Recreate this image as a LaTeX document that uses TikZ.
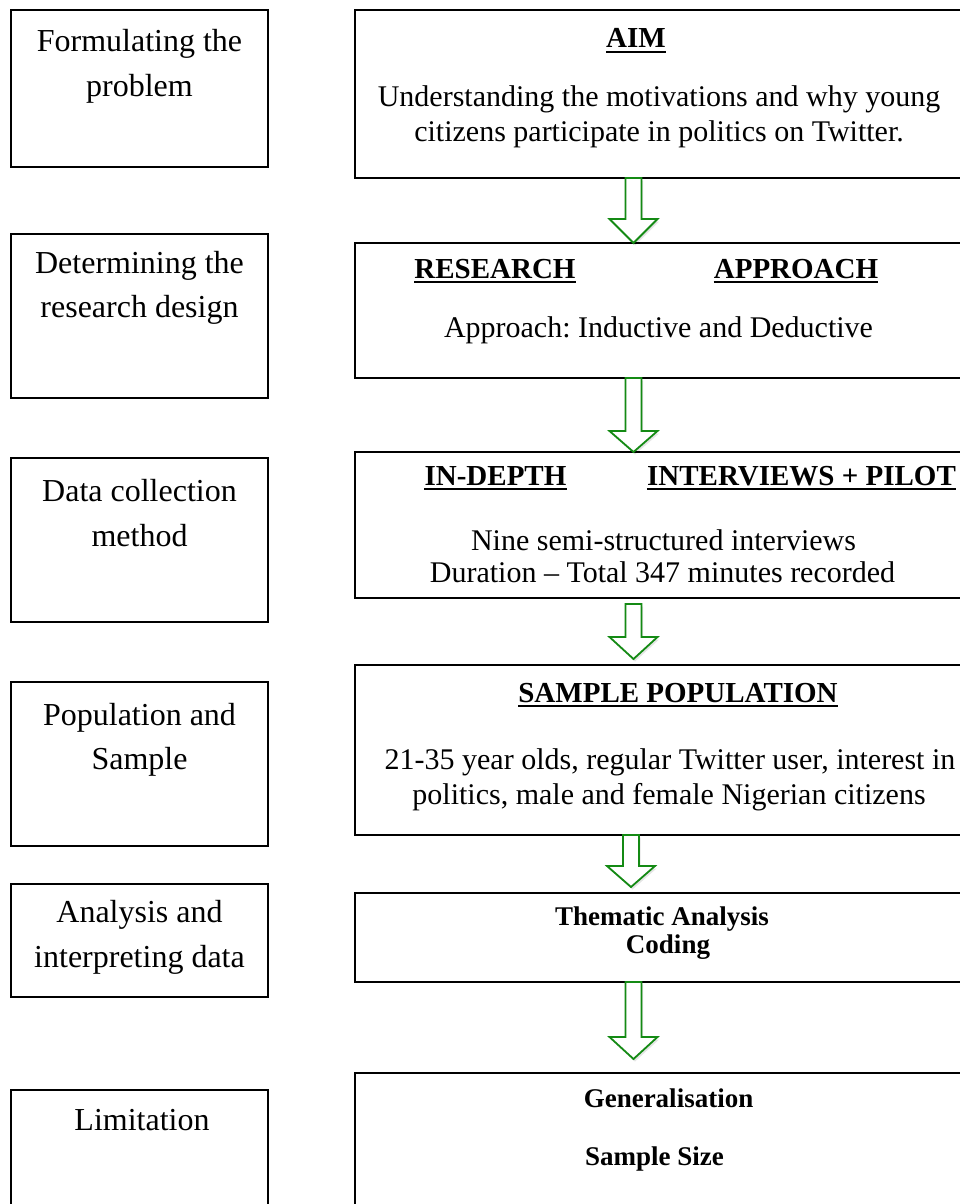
\documentclass[tikz,border=0pt]{standalone}
\usepackage{fontspec}
\setmainfont{Liberation Serif}
\frenchspacing
\usetikzlibrary{calc,shadows}
\definecolor{arrgreen}{RGB}{20,138,20}
\newcommand\blockarrow[3]{%
  \draw[blockarr] ($(#1)+(-8,0)$) -- ($(#2)+(-8,-#3)$) -- ($(#2)+(-24,-#3)$) -- (#2)
    -- ($(#2)+(24,-#3)$) -- ($(#2)+(8,-#3)$) -- ($(#1)+(8,0)$) -- cycle;}
\newcommand\ulnode[1]{\draw[ul] ($(#1.base west)+(0,4)$) -- ($(#1.base east)+(0,4)$);}
\begin{document}
\begin{tikzpicture}[x=1pt,y=-1pt,
  box/.style={draw=black,line width=1.8pt,fill=white,inner sep=0pt,outer sep=0pt},
  lbox/.style={box,minimum width=257pt},
  rbox/.style={box,minimum width=620pt},
  lt/.style={anchor=base,inner sep=0pt,font=\fontsize{32}{38}\selectfont},
  rt/.style={anchor=base,inner sep=0pt,font=\fontsize{30}{36}\selectfont},
  hd/.style={anchor=base,inner sep=0pt,font=\fontsize{29}{34}\selectfont\bfseries},
  bd/.style={anchor=base,inner sep=0pt,font=\fontsize{27}{32}\selectfont\bfseries},
  ul/.style={line width=1.5pt},
  blockarr/.style={draw=arrgreen,line width=1.8pt,fill=white,line join=miter,
    drop shadow={shadow xshift=1.5pt,shadow yshift=-2.5pt,opacity=0.10,fill=black}}
]
\useasboundingbox (0,0) rectangle (960,1204);
\fill[white] (0,0) rectangle (960,1204);
\clip (0,0) rectangle (960,1204);

% left boxes
\node[lbox,minimum height=157pt] (l1) at (139.5,88.5) {};
\node[lbox,minimum height=164pt] (l2) at (139.5,316) {};
\node[lbox,minimum height=164pt] (l3) at (139.5,540) {};
\node[lbox,minimum height=164pt] (l4) at (139.5,764) {};
\node[lbox,minimum height=113pt] (l5) at (139.5,940.5) {};
\node[lbox,minimum height=160pt] (l6) at (139.5,1170) {};

\node[lt] (l1a) at (139.5,52) {Formulating the};
\node[lt] (l1b) at (139.5,97) {problem};
\node[lt] (l2a) at (139.5,273) {Determining the};
\node[lt] (l2b) at (139.5,317) {research design};
\node[lt] (l3a) at (139.5,501) {Data collection};
\node[lt] (l3b) at (139.5,546) {method};
\node[lt] (l4a) at (139.5,725) {Population and};
\node[lt] (l4b) at (139.5,769) {Sample};
\node[lt] (l5a) at (139.5,922) {Analysis and};
\node[lt] (l5b) at (139.5,967) {interpreting data};
\node[lt] (l6a) at (142,1130) {Limitation};

% right boxes
\node[rbox,minimum height=168pt] (r1) at (665,94) {};
\node[rbox,minimum height=135pt] (r2) at (665,310.5) {};
\node[rbox,minimum height=146pt] (r3) at (665,525) {};
\node[rbox,minimum height=170pt] (r4) at (665,750) {};
\node[rbox,minimum height=89pt] (r5) at (665,937.5) {};
\node[rbox,minimum height=180pt] (r6) at (665,1163) {};

\node[hd] (aim) at (636,48) {AIM}; \ulnode{aim}
\node[rt] (r1a) at (659,107) {Understanding the motivations and why young};
\node[rt] (r1b) at (659,142) {citizens participate in politics on Twitter.};

\node[hd] (res) at (495,278) {RESEARCH}; \ulnode{res}
\node[hd] (app) at (796,278) {APPROACH}; \ulnode{app}
\node[rt] (r2a) at (658.5,337) {Approach: Inductive and Deductive};

\node[hd] (ind) at (495.5,485) {IN-DEPTH}; \ulnode{ind}
\node[hd] (int) at (801.5,485) {INTERVIEWS + PILOT}; \ulnode{int}
\node[rt] (r3a) at (663.5,550) {Nine semi-structured interviews};
\node[rt] (r3b) at (662.5,582) {Duration -- Total 347 minutes recorded};

\node[hd] (samp) at (678,702) {SAMPLE POPULATION}; \ulnode{samp}
\node[rt] (r4a) at (670,769) {21-35 year olds, regular Twitter user, interest in};
\node[rt] (r4b) at (669,804) {politics, male and female Nigerian citizens};

\node[bd] (r5a) at (662,925) {Thematic Analysis};
\node[bd] (r5b) at (668,953) {Coding};

\node[bd] (r6a) at (668.5,1107) {Generalisation};
\node[bd] (r6b) at (654.5,1165) {Sample Size};

% arrows
\coordinate (ax) at (633.5,0);
\coordinate (bx) at (631,0);
\coordinate (a1s) at (r1.south -| ax);
\coordinate (a1e) at (r2.north -| ax);
\coordinate (a2s) at (r2.south -| ax);
\coordinate (a2e) at (r3.north -| ax);
\coordinate (a3s) at ($(r3.south -| ax)+(0,6)$);
\coordinate (a3e) at ($(r4.north -| ax)+(0,-6)$);
\coordinate (a4s) at (r4.south -| bx);
\coordinate (a4e) at ($(r5.north -| bx)+(0,-6)$);
\coordinate (a5s) at (r5.south -| ax);
\coordinate (a5e) at ($(r6.north -| ax)+(0,-14)$);
\blockarrow{a1s}{a1e}{24}
\blockarrow{a2s}{a2e}{21}
\blockarrow{a3s}{a3e}{22}
\blockarrow{a4s}{a4e}{21}
\blockarrow{a5s}{a5e}{22}
\end{tikzpicture}
\end{document}
